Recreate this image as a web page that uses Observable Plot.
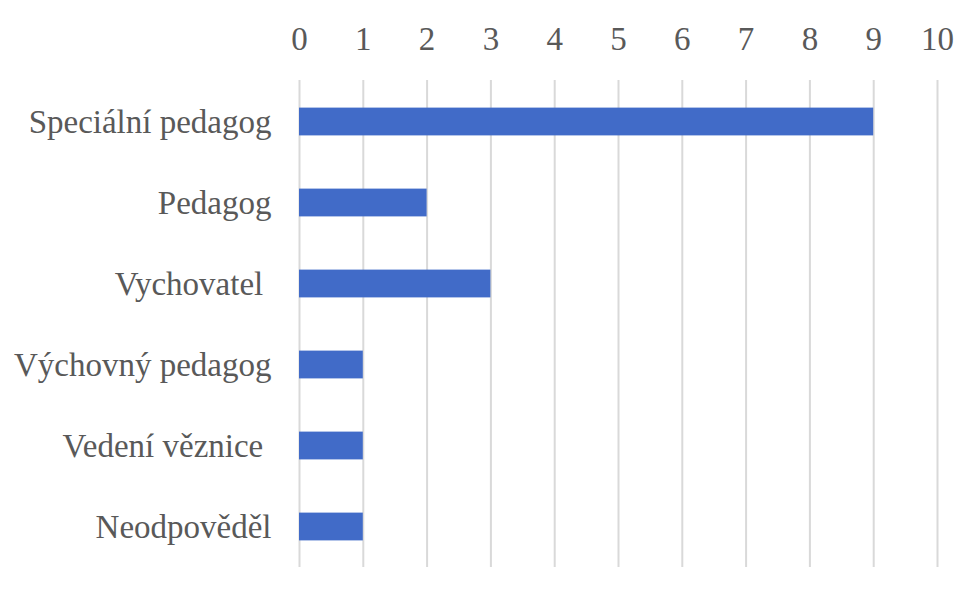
<!DOCTYPE html>
<html>
<head>
<meta charset="utf-8">
<script src="https://cdn.jsdelivr.net/npm/d3@7"></script>
<script src="https://cdn.jsdelivr.net/npm/@observablehq/plot@0.6"></script>
<style>
  html, body { margin: 0; padding: 0; background: #fff; }
  #chart svg text { white-space: pre; }
</style>
</head>
<body>
<div id="chart"></div>
<script>
const categories = ["Speciální pedagog", "Pedagog", "Vychovatel ", "Výchovný pedagog", "Vedení věznice ", "Neodpověděl"];
const values = [9, 2, 3, 1, 1, 1];
const xTicks = [0, 1, 2, 3, 4, 5, 6, 7, 8, 9, 10];

const data = categories.map((c, i) => ({category: c, value: values[i]}));

const chart = Plot.plot({
  width: 970,
  height: 591,
  marginLeft: 299,
  marginRight: 33,
  marginTop: 80,
  marginBottom: 24,
  style: {fontFamily: "'Liberation Serif', 'Times New Roman', serif", fontSize: "33px", color: "#595959", background: "#fff"},
  x: {domain: [0, 10], axis: null},
  y: {domain: categories, padding: 0, axis: null},
  marks: [
    Plot.ruleX(xTicks, {stroke: "#d9d9d9", strokeWidth: 2, strokeOpacity: 1}),
    Plot.barX(data, {y: "category", x: "value", fill: "#416bc8", insetTop: 26.6, insetBottom: 26.6}),
    Plot.axisX(xTicks, {anchor: "top", label: null, tickSize: 0, tickPadding: 31, fontSize: 33, fill: "#595959", tickFormat: d => String(d)}),
    Plot.axisY({anchor: "left", label: null, tickSize: 0, tickPadding: 28, fontSize: 33, fill: "#595959"})
  ]
});
document.getElementById("chart").appendChild(chart);
</script>
</body>
</html>
